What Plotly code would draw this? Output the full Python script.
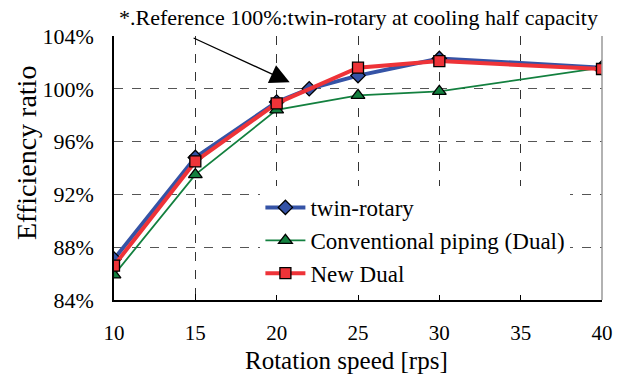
import plotly.graph_objects as go

# Data
x_twin = [10, 15, 20, 22, 25, 30, 40]
y_twin = [87.1, 94.8, 99.0, 100.0, 101.0, 102.3, 101.6]
x_conv = [10, 15, 20, 25, 30, 40]
y_conv = [85.9, 93.5, 98.4, 99.5, 99.8, 101.6]
x_new = [10, 15, 20, 25, 30, 40]
y_new = [86.6, 94.5, 98.9, 101.6, 102.1, 101.5]
x_ticks = [10, 15, 20, 25, 30, 35, 40]
y_ticks = [84, 88, 92, 96, 100, 104]
y_ticktext = [f"{v}%" for v in y_ticks]

FONT = "Liberation Serif"

fig = go.Figure()
fig.add_trace(go.Scatter(
    x=x_twin, y=y_twin, mode="lines+markers", name="twin-rotary",
    line=dict(color="#3553A6", width=4),
    marker=dict(symbol="diamond", size=11, color="#3553A6", line=dict(color="black", width=1.3)),
))
fig.add_trace(go.Scatter(
    x=x_conv, y=y_conv, mode="lines+markers", name="Conventional piping (Dual)",
    line=dict(color="#13803F", width=1.8),
    marker=dict(symbol="triangle-up", size=12, color="#13803F", line=dict(color="black", width=1.3)),
))
fig.add_trace(go.Scatter(
    x=x_new, y=y_new, mode="lines+markers", name="New Dual",
    line=dict(color="#EE3338", width=4),
    marker=dict(symbol="square", size=11, color="#EE3338", line=dict(color="black", width=1.3)),
))

fig.update_layout(
    width=624, height=376,
    margin=dict(l=114, r=22, t=36, b=76),
    paper_bgcolor="white", plot_bgcolor="white",
    font=dict(family=FONT, size=22, color="black"),
    showlegend=True,
    legend=dict(
        x=0.30, y=0.432, xanchor="left", yanchor="top",
        bgcolor="white", font=dict(family=FONT, size=23, color="black"),
        itemwidth=40, tracegroupgap=0,
    ),
    xaxis=dict(
        range=[10, 40], tickvals=x_ticks, ticks="inside", ticklen=6, tickcolor="black",
        showline=True, linecolor="black", linewidth=1.5,
        showgrid=True, gridcolor="#333", griddash="dash", gridwidth=1,
        tickfont=dict(family=FONT, size=21, color="black"),
        ticklabelstandoff=13,
        zeroline=False,
    ),
    yaxis=dict(
        range=[84, 104], tickvals=y_ticks, ticktext=y_ticktext, ticks="",
        showline=True, linecolor="black", linewidth=1.5,
        showgrid=True, gridcolor="#555", griddash="dash", gridwidth=1,
        tickfont=dict(family=FONT, size=22, color="black"),
        ticklabelstandoff=14,
        zeroline=False,
    ),
    shapes=[dict(type="line", xref="paper", yref="paper", x0=1, x1=1, y0=0, y1=1,
                 line=dict(color="#999", width=1.5))],
    annotations=[
        dict(text="*.Reference 100%:twin-rotary at cooling half capacity",
             xref="paper", yref="paper", x=0.5, y=1.0, xanchor="center", yanchor="bottom",
             yshift=4, showarrow=False, font=dict(family=FONT, size=22, color="black")),
        dict(text="Rotation speed [rps]", xref="paper", yref="paper",
             x=0.477, y=0, xanchor="center", yanchor="middle", yshift=-60,
             showarrow=False, font=dict(family=FONT, size=25, color="black")),
        dict(text="Efficiency ratio", xref="paper", yref="paper", textangle=-90,
             x=0, y=0.5, xanchor="center", yanchor="middle", xshift=-88, yshift=15,
             showarrow=False, font=dict(family=FONT, size=28, color="black")),
        dict(text="", x=20.8, y=100.5, xref="x", yref="y",
             ax=14.8, ay=103.9, axref="x", ayref="y",
             showarrow=True, arrowhead=2, arrowsize=3, arrowwidth=1.3, arrowcolor="black"),
    ],
)

fig.write_html("out.html")
